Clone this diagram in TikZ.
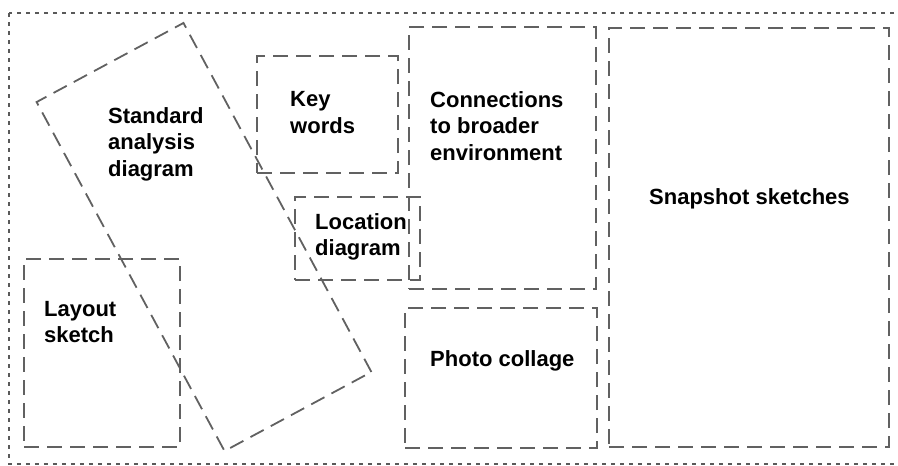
\documentclass[tikz,border=0pt]{standalone}
\usepackage{fontspec}
\setmainfont{Liberation Sans}
\begin{document}
\begin{tikzpicture}[x=1pt,y=-1pt,
  box/.style={draw=black!62, line width=1.8pt, dash pattern=on 15pt off 8pt, rectangle, inner sep=0pt},
  outer/.style={draw=black!65, line width=2pt, dash pattern=on 4pt off 5pt},
  lbl/.style={anchor=west, align=left, inner sep=0pt, font=\bfseries\fontsize{22}{26.5}\selectfont}]
\useasboundingbox (0,0) rectangle (898,466);
% outer dotted frame
\draw[outer] (9,13) rectangle (905,464);
% boxes
\node[box, minimum width=156pt, minimum height=188pt] (layout) at (102,353) {};
\node[box, minimum width=396.4pt, minimum height=166.8pt, rotate=-61.7] (std) at (204,237) {};
\node[box, minimum width=141pt, minimum height=117pt] (key) at (327.5,114.5) {};
\node[box, minimum width=125pt, minimum height=83pt] (loc) at (357.5,238.5) {};
\node[box, minimum width=187pt, minimum height=262pt] (conn) at (502.5,158) {};
\node[box, minimum width=192pt, minimum height=140pt] (photo) at (501,378) {};
\node[box, minimum width=280pt, minimum height=419pt] (snap) at (749,237.5) {};
% labels
\node[lbl] (tstd) at (108,144) {Standard\\analysis\\diagram};
\node[lbl] (tkey) at (290,112.5) {Key\\words};
\node[lbl] (tconn) at (430,126) {Connections\\to broader\\environment};
\node[lbl] (tloc) at (315,237) {Location\\diagram};
\node[lbl] (tlay) at (44,322) {Layout\\sketch};
\node[lbl] (tphoto) at (430,361) {Photo collage};
\node[lbl] (tsnap) at (649,199) {Snapshot sketches};
\end{tikzpicture}
\end{document}
